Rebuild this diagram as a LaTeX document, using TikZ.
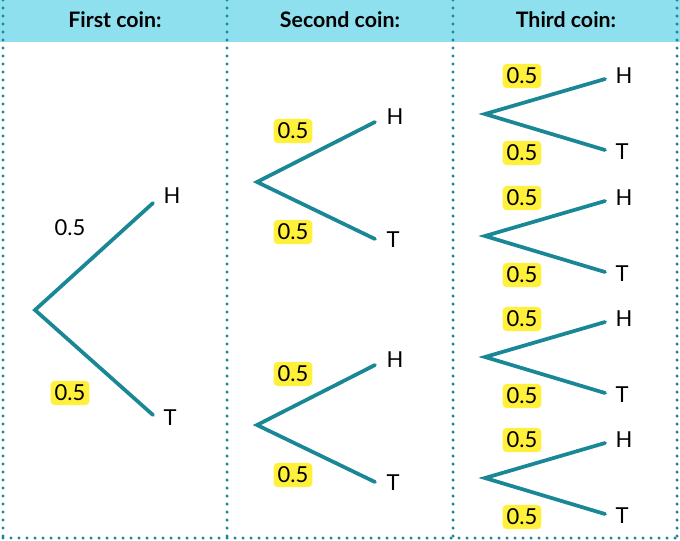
\documentclass[tikz,border=0pt]{standalone}
\usepackage{fontspec}
\setmainfont{Lato}
\definecolor{br}{HTML}{1A8796}
\definecolor{hdr}{HTML}{8FE0EE}
\definecolor{yl}{HTML}{FFF03C}
\begin{document}
\begin{tikzpicture}[x=0.75pt,y=-0.75pt,
 br/.style={line width=2.8pt,color=br,line cap=round},
 lab/.style={font=\fontsize{16.5}{19}\selectfont},
 hl/.style={lab,fill=yl,rounded corners=3pt,inner xsep=3pt,inner ysep=3pt},
 hd/.style={font=\bfseries\fontsize{16}{19}\selectfont},
 dv/.style={line width=2.6pt,color=br,line cap=round,dash pattern=on 0pt off 6pt}]
\useasboundingbox (0,0) rectangle (680,540);
\fill[hdr] (0,0) rectangle (680,42);
\foreach \x in {3,227,453,677} \draw[dv] (\x,0) -- (\x,540);
\draw[dv] (3,538) -- (677,538);
\node[hd] (h1) at (115,20) {First coin:};
\node[hd] (h2) at (340,20) {Second coin:};
\node[hd] (h3) at (566,20) {Third coin:};
% tree 1
\coordinate (r1) at (35,310); \coordinate (a1) at (153,203); \coordinate (b1) at (153,415);
\draw[br] (a1) -- (r1) -- (b1);
\node[lab] (H1) at (172,196) {H}; \node[lab] (T1) at (170,418) {T};
\node[lab] (p1) at (70,228) {0.5}; \node[hl] (q1) at (70,393) {0.5};
% second coin
\foreach \n/\y in {A/182,B/425}{
 \coordinate (r\n) at (257,\y); \coordinate (a\n) at (375,\y-60); \coordinate (b\n) at (375,\y+57);
 \draw[br] (a\n) -- (r\n) -- (b\n);
 \node[lab] (H\n) at (395,\y-65) {H}; \node[lab] (T\n) at (393,\y+58) {T};
 \node[hl] (p\n) at (293,\y-51) {0.5}; \node[hl] (q\n) at (293,\y+50) {0.5};
}
% third coin
\foreach \n/\y in {C/114,D/236,E/357,F/478}{
 \coordinate (r\n) at (485,\y); \coordinate (a\n) at (605,\y-35); \coordinate (b\n) at (605,\y+36);
 \draw[br] (a\n) -- (r\n) -- (b\n);
 \node[lab] (H\n) at (624,\y-38) {H}; \node[lab] (T\n) at (622,\y+38) {T};
 \node[hl] (p\n) at (522,\y-38) {0.5}; \node[hl] (q\n) at (522,\y+39) {0.5};
}
\end{tikzpicture}
\end{document}
